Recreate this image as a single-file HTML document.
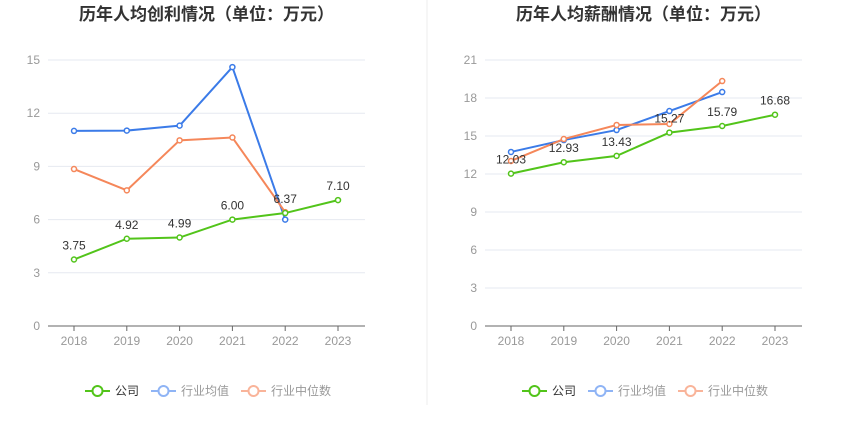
<!DOCTYPE html>
<html><head><meta charset="utf-8"><style>
body{margin:0;background:#fff;width:850px;height:436px;overflow:hidden;font-family:"Liberation Sans","Noto Sans CJK SC",sans-serif;}
</style></head><body>
<svg id="svg" width="850" height="436" xmlns="http://www.w3.org/2000/svg"></svg>
<script>
const years=['2018','2019','2020','2021','2022','2023'];
const profitCompany=[3.75,4.92,4.99,6.00,6.37,7.10];
const profitAvg=[11.0,11.02,11.3,14.6,6.0];
const profitMedian=[8.85,7.65,10.47,10.63,6.42];
const profitTicks=[0,3,6,9,12,15];
const salaryCompany=[12.03,12.93,13.43,15.27,15.79,16.68];
const salaryAvg=[13.74,14.68,15.47,16.97,18.47];
const salaryMedian=[13.03,14.76,15.87,15.95,19.34];
const salaryTicks=[0,3,6,9,12,15,18,21];
const NS='http://www.w3.org/2000/svg';
const svg=document.getElementById('svg');
function mk(tag,attrs,parent){const e=document.createElementNS(NS,tag);for(const k in attrs)e.setAttribute(k,attrs[k]);(parent||svg).appendChild(e);return e;}
const C={co:'#52c41a',avg:'#3b7be8',med:'#f5875a'};
function chart(cfg){
  const g=mk('g',{});
  
  
  const x0=cfg.left,x1=cfg.left+317,yb=326,yt=60,max=cfg.ticks[cfg.ticks.length-1];
  const xs=i=>x0+26+i*52.8, ys=v=>yb-(v/max)*(yb-yt);
  const t=mk('text',{x:(x0+x1)/2,y:20,'text-anchor':'middle','font-size':'17','font-weight':'bold',fill:'#333'},g);
  t.textContent=cfg.title;
  
  
  cfg.ticks.forEach(v=>{
    if(v>0){const l=mk('line',{x1:x0,x2:x1,y1:ys(v),y2:ys(v),stroke:'#e6e9f0'},g);}
    const tt=mk('text',{x:x0-8,y:ys(v)+4,'text-anchor':'end','font-size':'12',fill:'#999'},g);tt.textContent=v;
    
  });
  const ax=mk('line',{x1:x0,x2:x1,y1:yb,y2:yb,stroke:'#666'},g);
  
  years.forEach((y,i)=>{
    mk('line',{x1:xs(i),x2:xs(i),y1:yb,y2:yb+5,stroke:'#666'},g);
    const tt=mk('text',{x:xs(i),y:yb+19,'text-anchor':'middle','font-size':'12',fill:'#999'},g);tt.textContent=y;
    
  });
  [[cfg.avg,C.avg,'industry-average-line'],[cfg.med,C.med,'industry-median-line'],[cfg.co,C.co,'company-line']].forEach(([d,c,n])=>{
    const p=mk('polyline',{points:d.map((v,i)=>xs(i)+','+ys(v)).join(' '),fill:'none',stroke:c,'stroke-width':2},g);
    
    d.forEach((v,i)=>{const m=mk('circle',{cx:xs(i),cy:ys(v),r:2.5,fill:'#fff',stroke:c,'stroke-width':1.5},g);
      });
  });
  cfg.co.forEach((v,i)=>{const tt=mk('text',{x:xs(i),y:ys(v)-10,'text-anchor':'middle','font-size':'12',fill:'#333'},g);tt.textContent=v.toFixed(2);
    });
  const lg=[['公司',C.co,'#333'],['行业均值','#8fb4f5','#999'],['行业中位数','#f9b49a','#999']];
  let lx=cfg.left+37;
  lg.forEach(([n,c,tc])=>{
    const gg=mk('g',{},g);
    mk('line',{x1:lx,x2:lx+25,y1:391,y2:391,stroke:c,'stroke-width':2},gg);
    mk('circle',{cx:lx+12.5,cy:391,r:5,fill:'#fff',stroke:c,'stroke-width':2},gg);
    const tt=mk('text',{x:lx+30,y:395,'font-size':'12',fill:tc},gg);tt.textContent=n;
    lx+=30+n.length*12+12;
  });
}
chart({name:'profit-chart',left:48,title:'历年人均创利情况（单位：万元）',ticks:profitTicks,co:profitCompany,avg:profitAvg,med:profitMedian});
chart({name:'salary-chart',left:485,title:'历年人均薪酬情况（单位：万元）',ticks:salaryTicks,co:salaryCompany,avg:salaryAvg,med:salaryMedian});
const d=mk('line',{x1:427,x2:427,y1:0,y2:405,stroke:'#eee'});

</script>
</body></html>
